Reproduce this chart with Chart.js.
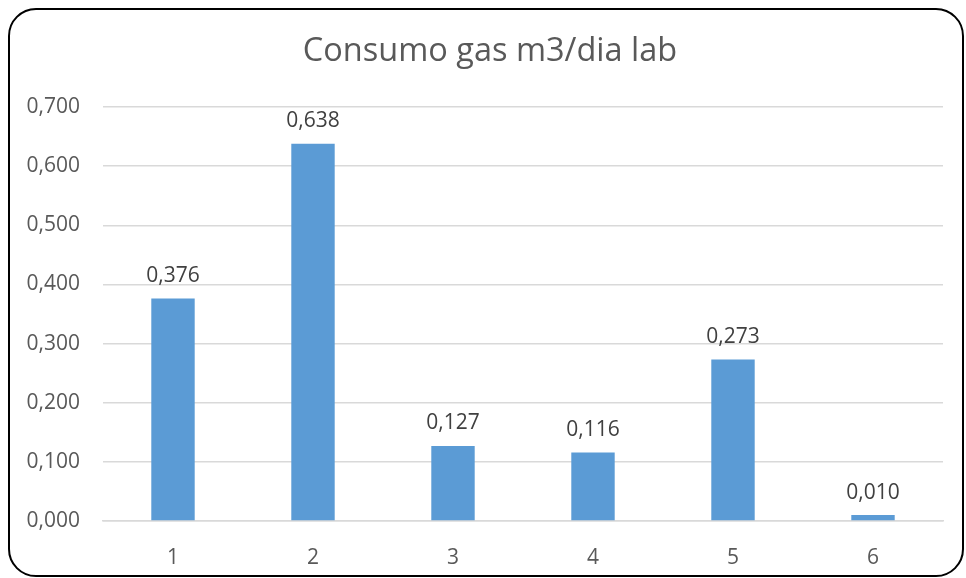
<!DOCTYPE html>
<html>
<head>
<meta charset="utf-8">
<script src="https://cdn.jsdelivr.net/npm/chart.js@4/dist/chart.umd.min.js"></script>
<style>
    html, body { margin: 0; padding: 0; background: #fff; }
    #wrap { position: relative; width: 966px; height: 578px; overflow: hidden; }
    #frame {
        position: absolute; left: 8px; top: 8px; width: 956px; height: 569px;
        border: 2px solid #000; border-radius: 28px; box-sizing: border-box;
    }
    canvas { position: absolute; left: 0; top: 0; }
</style>
</head>
<body>
<div id="wrap">
    <canvas id="barChart" width="966" height="578"></canvas>
    <div id="frame"></div>
</div>
<script>
const chartTitle = 'Consumo gas m3/dia lab';
const categories = ['1', '2', '3', '4', '5', '6'];
const consumo = [0.376, 0.638, 0.127, 0.116, 0.273, 0.010];
const yTicks = [0, 0.1, 0.2, 0.3, 0.4, 0.5, 0.6, 0.7];

function fmt(v) {
    return v.toFixed(3).replace('.', ',');
}

// title is centred on the frame, not on the canvas, so draw it here
const frameTitle = {
    id: 'frameTitle',
    afterDraw(chart) {
        const ctx = chart.ctx;
        ctx.save();
        ctx.font = '32.5px "Open Sans"';
        ctx.fillStyle = '#595959';
        ctx.textAlign = 'center';
        ctx.textBaseline = 'middle';
        ctx.fillText(chartTitle, 490, 52);
        ctx.restore();
    }
};

// labels above each bar
const barLabels = {
    id: 'barLabels',
    afterDatasetsDraw(chart) {
        const ctx = chart.ctx;
        const meta = chart.getDatasetMeta(0);
        ctx.save();
        ctx.font = '21px "Open Sans"';
        ctx.fillStyle = '#404040';
        ctx.textAlign = 'center';
        ctx.textBaseline = 'bottom';
        meta.data.forEach((bar, i) => {
            ctx.fillText(fmt(consumo[i]), bar.x, bar.y - 12);
        });
        ctx.restore();
    }
};

let barCtx = document.getElementById('barChart').getContext('2d');
let barChart = new Chart(barCtx, {
    type: 'bar',
    data: {
        labels: categories,
        datasets: [{
            label: 'Consumo',
            data: consumo,
            backgroundColor: '#5b9bd5',
            categoryPercentage: 1,
            barPercentage: 0.31
        }]
    },
    options: {
        responsive: false,
        animation: false,
        layout: {
            padding: { top: 107, right: 23, bottom: 0, left: 0 }
        },
        plugins: {
            legend: { display: false },
            tooltip: { enabled: false },
            title: { display: false }
        },
        scales: {
            x: {
                grid: { display: false },
                border: { display: true, color: '#d9d9d9', width: 1.5 },
                ticks: {
                    color: '#595959',
                    font: { family: 'Open Sans', size: 21 },
                    padding: 16
                },
                afterFit(scale) { scale.height = 57; }
            },
            y: {
                min: 0,
                max: 0.7,
                afterBuildTicks(scale) {
                    scale.ticks = yTicks.map(v => ({ value: v }));
                },
                grid: { color: '#d9d9d9', lineWidth: 1.5, drawTicks: false },
                border: { display: false },
                ticks: {
                    color: '#595959',
                    font: { family: 'Open Sans', size: 21 },
                    padding: 23,
                    callback: v => fmt(v)
                },
                afterFit(scale) { scale.width = 103; }
            }
        }
    },
    plugins: [barLabels, frameTitle]
});
</script>
</body>
</html>
